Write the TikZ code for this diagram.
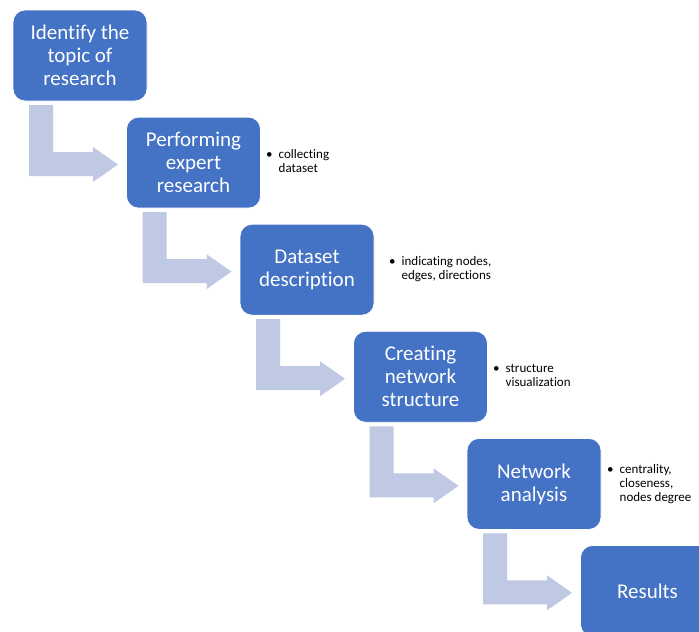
\documentclass[tikz,border=0pt]{standalone}
\usepackage{fontspec}
\setmainfont[Ligatures=NoCommon]{Carlito}
\definecolor{boxblue}{HTML}{4472C4}
\definecolor{arrowblue}{HTML}{BFC9E3}
\tikzset{
  stepbox/.style={rectangle, rounded corners=12pt, fill=boxblue, draw=white, line width=0.8pt,
    minimum width=134pt, minimum height=91pt, inner sep=0pt, align=center, text=white,
    font=\fontsize{21}{23}\selectfont},
  note/.style={anchor=west, inner sep=0pt, align=left, font=\fontsize{13}{14}\selectfont},
  bentarrow/.style={fill=arrowblue, draw=none}
}
\newcommand{\bentarr}[3]{% #1 name, #2 dx, #3 dy
  \begin{scope}[shift={(#2,#3)}]
    \coordinate (#1) at (118,164.5);
    \fill[bentarrow] (29,105) -- (53,105) -- (53,152) -- (93,152) -- (93,147) -- (#1) -- (93,182) -- (93,176) -- (29,176) -- cycle;
  \end{scope}}
\begin{document}
\begin{tikzpicture}[x=1pt,y=-1pt]
\useasboundingbox (0,0) rectangle (699,632);
\clip (0,0) rectangle (699,632);
\fill[white] (0,0) rectangle (699,632);
% arrows
\bentarr{a1}{0}{0}
\bentarr{a2}{113.5}{107.1}
\bentarr{a3}{227}{214.2}
\bentarr{a4}{340.5}{321.3}
\bentarr{a5}{454}{428.4}
% boxes
\node[stepbox] (b1) at (80,55.5) {Identify the\\topic of\\research};
\node[stepbox] (b2) at (193.5,162.6) {Performing\\expert\\research};
\node[stepbox] (b3) at (307,269.7) {Dataset\\description};
\node[stepbox] (b4) at (420.5,376.8) {Creating\\network\\structure};
\node[stepbox] (b5) at (534,483.9) {Network\\analysis};
\node[stepbox] (b6) at (647.5,591) {Results};
% notes
\node[note] (n2) at (266,162.5) {\begin{tabular}{@{}l@{\hspace{6pt}}l@{}}\textbullet & collecting\\ & dataset\end{tabular}};
\node[note] (n3) at (389,270) {\begin{tabular}{@{}l@{\hspace{6pt}}l@{}}\textbullet & indicating nodes,\\ & edges, directions\end{tabular}};
\node[note] (n4) at (493,377) {\begin{tabular}{@{}l@{\hspace{6pt}}l@{}}\textbullet & structure\\ & visualization\end{tabular}};
\node[note] (n5) at (607,485) {\begin{tabular}{@{}l@{\hspace{6pt}}l@{}}\textbullet & centrality,\\ & closeness,\\ & nodes degree\end{tabular}};
\end{tikzpicture}
\end{document}
